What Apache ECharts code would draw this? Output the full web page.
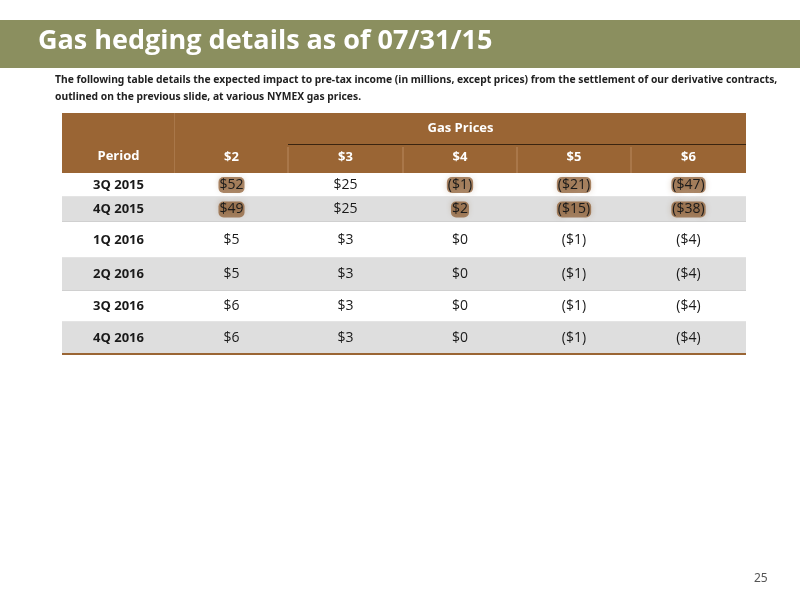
<!DOCTYPE html>
<html><head><meta charset="utf-8">
<script src="https://cdn.jsdelivr.net/npm/echarts@6/dist/echarts.min.js"></script>
<style>html,body{margin:0;padding:0;background:#fff}#c{width:800px;height:600px}</style>
</head><body><div id="c"></div>
<script>
var periods = ['3Q 2015','4Q 2015','1Q 2016','2Q 2016','3Q 2016','4Q 2016'];
var prices = ['$2','$3','$4','$5','$6'];
var v2 = ['$52','$49','$5','$5','$6','$6'];
var v3 = ['$25','$25','$3','$3','$3','$3'];
var v4 = ['($1)','$2','$0','$0','$0','$0'];
var v5 = ['($21)','($15)','($1)','($1)','($1)','($1)'];
var v6 = ['($47)','($38)','($4)','($4)','($4)','($4)'];
var highlighted = [[0,0],[0,2],[0,3],[0,4],[1,0],[1,2],[1,3],[1,4]];
var columns = [v2,v3,v4,v5,v6];

var colW = [113,113,115,114,114,115];
var rowH = [24,25,36,33,31,32];
var headH = [32,28];
var colEdge=[0]; colW.forEach(function(w){colEdge.push(colEdge[colEdge.length-1]+w);});
var rowEdge=[headH[0]+headH[1]]; rowH.forEach(function(h){rowEdge.push(rowEdge[rowEdge.length-1]+h);});
var totalW=colEdge[colEdge.length-1], totalH=rowEdge[rowEdge.length-1];

var BROWN='#9a6534', GRAY='#dedede';
var cells=[];
cells.push([0,colEdge[1],0,rowEdge[0],'Period','head','vert']);
cells.push([colEdge[1],totalW,0,headH[0],'Gas Prices','head','gp']);
prices.forEach(function(p,i){cells.push([colEdge[i+1],colEdge[i+2],headH[0],rowEdge[0],p,'head',i>0?'sep':'col']);});
periods.forEach(function(p,r){
  var shade = (r===1||r===3||r===5)?'gray':'white';
  cells.push([0,colEdge[1],rowEdge[r],rowEdge[r+1],p,shade,'period']);
  columns.forEach(function(col,c){
    var hl = highlighted.some(function(h){return h[0]===r&&h[1]===c;});
    cells.push([colEdge[c+1],colEdge[c+2],rowEdge[r],rowEdge[r+1],col[r],shade,hl?'hl':'']);
  });
});

var chart=echarts.init(document.getElementById('c'));
chart.setOption({
  animation:false,
  graphic:[
    {type:'rect',shape:{x:0,y:20,width:800,height:48},style:{fill:'#8b8f5f'}},
    {type:'text',left:38,top:28,style:{text:'Gas hedging details as of 07/31/15',fill:'#fff',font:'bold 27px "Open Sans", sans-serif'}},
    {type:'text',left:55,top:72,style:{text:'The following table details the expected impact to pre-tax income (in millions, except prices) from the settlement of our derivative contracts,\noutlined on the previous slide, at various NYMEX gas prices.',fill:'#222',font:'bold 10.3px "Noto Sans", sans-serif',lineHeight:17}},
    {type:'text',left:754,top:573,style:{text:'25',fill:'#555',font:'12px "Noto Sans", sans-serif'}}
  ],
  grid:{left:62,right:54,top:113,bottom:246},
  xAxis:{type:'value',min:0,max:totalW,show:false},
  yAxis:{type:'value',min:0,max:totalH,inverse:true,show:false},
  series:[{
    type:'custom',
    data:cells,
    encode:{x:[0,1],y:[2,3]},
    renderItem:function(params,api){
      var a=api.coord([api.value(0),api.value(2)]);
      var b=api.coord([api.value(1),api.value(3)]);
      var txt=cells[params.dataIndex][4], kind=cells[params.dataIndex][5], flag=cells[params.dataIndex][6];
      var children=[];
      var fill = kind==='head'?BROWN:(kind==='gray'?GRAY:'#fff');
      children.push({type:'rect',shape:{x:a[0],y:a[1],width:b[0]-a[0],height:b[1]-a[1]},style:{fill:fill}});
      var cx=(a[0]+b[0])/2, cy=(a[1]+b[1])/2;
      if(kind==='head'){
        if(flag==='gp'){
          children.push({type:'line',shape:{x1:colEdge[2]-colEdge[1]+a[0],y1:b[1],x2:b[0],y2:b[1]},style:{stroke:'#3a2410',lineWidth:2}});
        }
        if(flag==='sep'){
          children.push({type:'line',shape:{x1:a[0],y1:a[1]+2,x2:a[0],y2:b[1]},style:{stroke:'#b98a5e',lineWidth:1}});
        }
        if(flag==='vert'){
          children.push({type:'line',shape:{x1:b[0],y1:a[1],x2:b[0],y2:b[1]},style:{stroke:'#b98a5e',lineWidth:1}});
        }
        var ty = flag==='vert'?b[1]-17:(flag==='gp'?cy-1:cy-2);
        children.push({type:'text',style:{text:txt,x:cx,y:ty,align:'center',verticalAlign:'middle',fill:'#fff',font:'bold 13px "Open Sans", sans-serif'}});
      } else {
        var last=params.dataIndex>=cells.length-6;
        children.push({type:'line',shape:{x1:a[0],y1:b[1],x2:b[0],y2:b[1]},style:{stroke:last?BROWN:'#bbb',lineWidth:last?2:0.8}});
        var st={text:txt,x:cx,y:cy,align:'center',verticalAlign:'middle',fill:'#1a1a1a',
          font:(flag==='period'?'bold 13px':'14px')+' "Open Sans", sans-serif'};
        if(flag==='hl'){ st.textShadowColor='#7a4a1c'; st.textShadowBlur=6; st.backgroundColor='rgba(140,90,45,0.7)'; st.padding=[1,1];st.borderRadius=5;}
        children.push({type:'text',style:st});
      }
      return {type:'group',children:children};
    }
  }]
});
</script></body></html>
